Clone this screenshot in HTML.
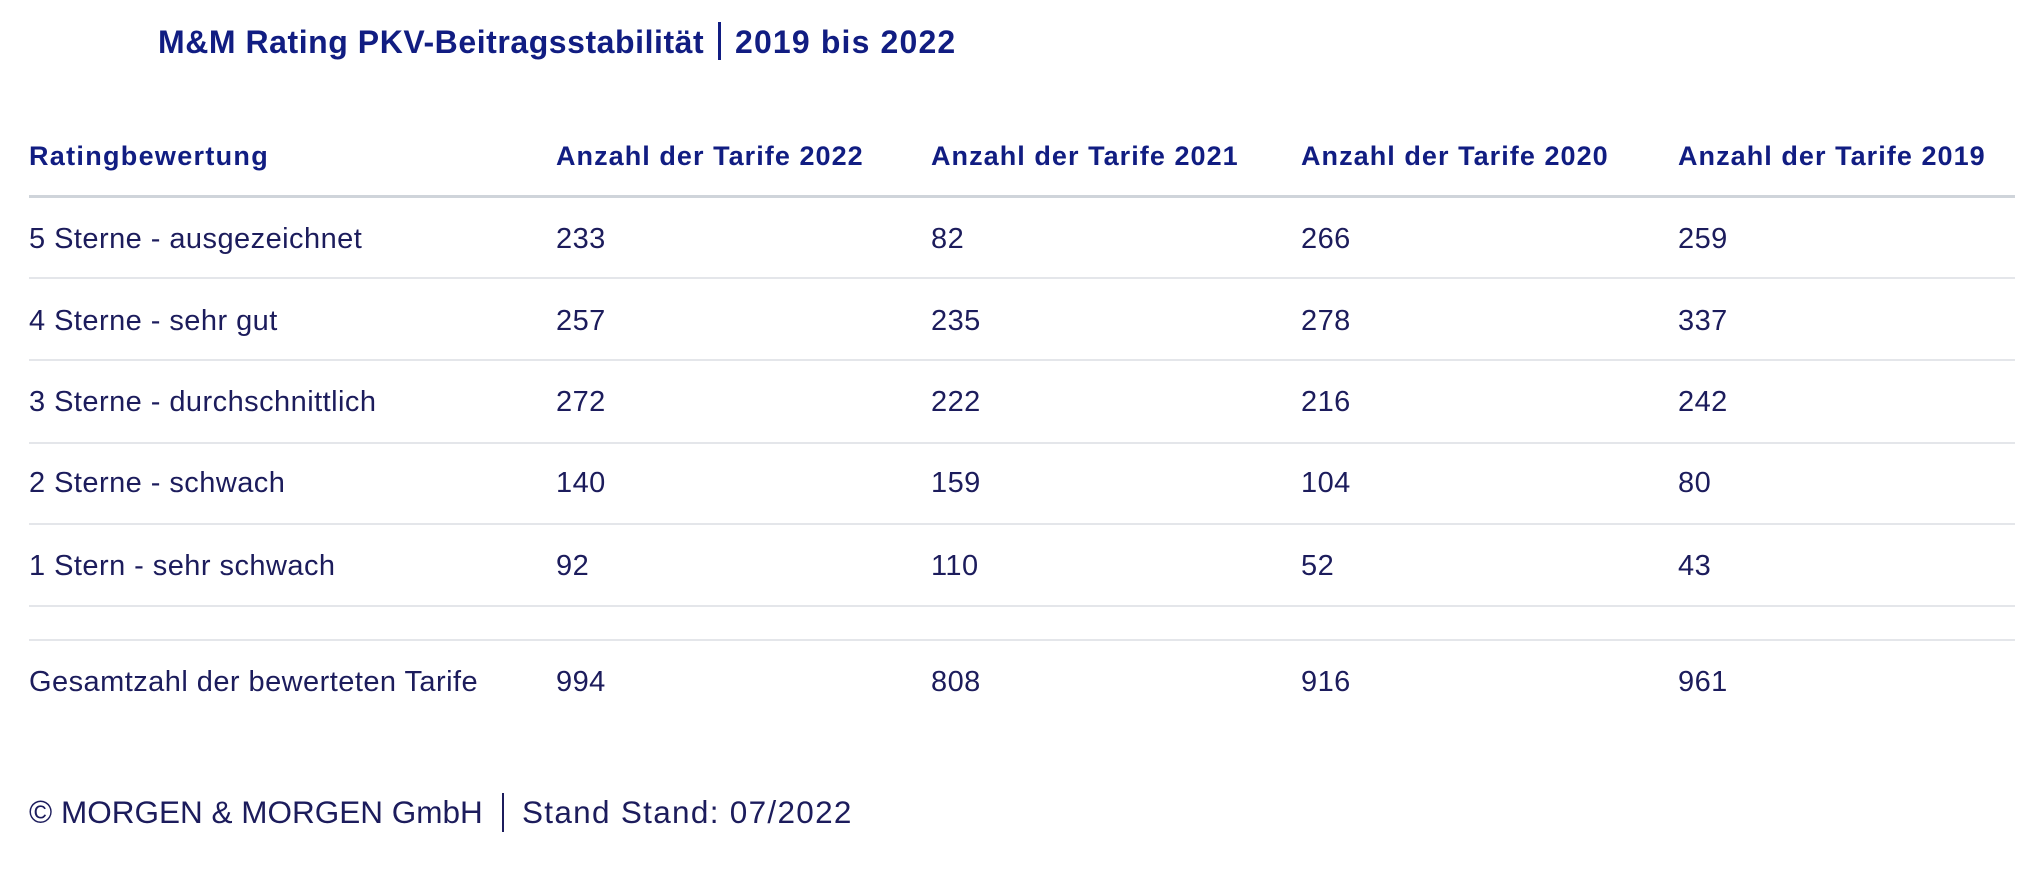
<!DOCTYPE html>
<html>
<head>
<meta charset="utf-8">
<style>
  html, body { margin:0; padding:0; background:#ffffff; }
  body { width:2040px; height:872px; position:relative; overflow:hidden; font-family:"Liberation Sans", Arial, sans-serif; }
  .t { position:absolute; white-space:nowrap; }
  .title { font-weight:bold; font-size:32px; line-height:40px; color:#111d82; }
  .hd { font-weight:bold; font-size:27px; line-height:36px; color:#111d82; letter-spacing:1.05px; top:138px; }
  .bd { font-size:29px; line-height:40px; color:#1c1c5c; letter-spacing:0.45px; }
  .ln { position:absolute; left:29px; width:1986px; height:2px; background:#e4e6ea; }
  .bar { position:absolute; width:2px; }
  .ft { font-size:31.5px; line-height:44px; color:#1c1c5c; }
</style>
</head>
<body>
  <!-- Title -->
  <div class="t title" style="left:158px; top:22px; letter-spacing:0.55px;">M&amp;M Rating PKV-Beitragsstabilität</div>
  <div class="bar" style="left:718px; top:22px; width:3px; height:38px; background:#111d82;"></div>
  <div class="t title" style="left:735px; top:22px; letter-spacing:1.15px;">2019 bis 2022</div>

  <!-- Header -->
  <div class="t hd" style="left:29px; letter-spacing:1.3px;">Ratingbewertung</div>
  <div class="t hd" style="left:556px;">Anzahl der Tarife 2022</div>
  <div class="t hd" style="left:931px;">Anzahl der Tarife 2021</div>
  <div class="t hd" style="left:1301px;">Anzahl der Tarife 2020</div>
  <div class="t hd" style="left:1678px;">Anzahl der Tarife 2019</div>
  <div class="ln" style="top:195px; height:3px; background:#cfd4da;"></div>

  <!-- Row 1 -->
  <div class="t bd" style="left:29px; top:219px;">5 Sterne - ausgezeichnet</div>
  <div class="t bd" style="left:556px; top:219px;">233</div>
  <div class="t bd" style="left:931px; top:219px;">82</div>
  <div class="t bd" style="left:1301px; top:219px;">266</div>
  <div class="t bd" style="left:1678px; top:219px;">259</div>
  <div class="ln" style="top:277px;"></div>

  <!-- Row 2 -->
  <div class="t bd" style="left:29px; top:301px;">4 Sterne - sehr gut</div>
  <div class="t bd" style="left:556px; top:301px;">257</div>
  <div class="t bd" style="left:931px; top:301px;">235</div>
  <div class="t bd" style="left:1301px; top:301px;">278</div>
  <div class="t bd" style="left:1678px; top:301px;">337</div>
  <div class="ln" style="top:359px;"></div>

  <!-- Row 3 -->
  <div class="t bd" style="left:29px; top:382px;">3 Sterne - durchschnittlich</div>
  <div class="t bd" style="left:556px; top:382px;">272</div>
  <div class="t bd" style="left:931px; top:382px;">222</div>
  <div class="t bd" style="left:1301px; top:382px;">216</div>
  <div class="t bd" style="left:1678px; top:382px;">242</div>
  <div class="ln" style="top:442px;"></div>

  <!-- Row 4 -->
  <div class="t bd" style="left:29px; top:463px;">2 Sterne - schwach</div>
  <div class="t bd" style="left:556px; top:463px;">140</div>
  <div class="t bd" style="left:931px; top:463px;">159</div>
  <div class="t bd" style="left:1301px; top:463px;">104</div>
  <div class="t bd" style="left:1678px; top:463px;">80</div>
  <div class="ln" style="top:523px;"></div>

  <!-- Row 5 -->
  <div class="t bd" style="left:29px; top:546px;">1 Stern - sehr schwach</div>
  <div class="t bd" style="left:556px; top:546px;">92</div>
  <div class="t bd" style="left:931px; top:546px;">110</div>
  <div class="t bd" style="left:1301px; top:546px;">52</div>
  <div class="t bd" style="left:1678px; top:546px;">43</div>
  <div class="ln" style="top:605px;"></div>

  <div class="ln" style="top:639px;"></div>

  <!-- Total -->
  <div class="t bd" style="left:29px; top:662px;">Gesamtzahl der bewerteten Tarife</div>
  <div class="t bd" style="left:556px; top:662px;">994</div>
  <div class="t bd" style="left:931px; top:662px;">808</div>
  <div class="t bd" style="left:1301px; top:662px;">916</div>
  <div class="t bd" style="left:1678px; top:662px;">961</div>

  <!-- Footer -->
  <div class="t ft" style="left:29px; top:790px;">© MORGEN &amp; MORGEN GmbH</div>
  <div class="bar" style="left:502px; top:793px; height:39px; background:#1c1c5c;"></div>
  <div class="t ft" style="left:522px; top:790px; letter-spacing:1.3px;">Stand Stand: 07/2022</div>
</body>
</html>
